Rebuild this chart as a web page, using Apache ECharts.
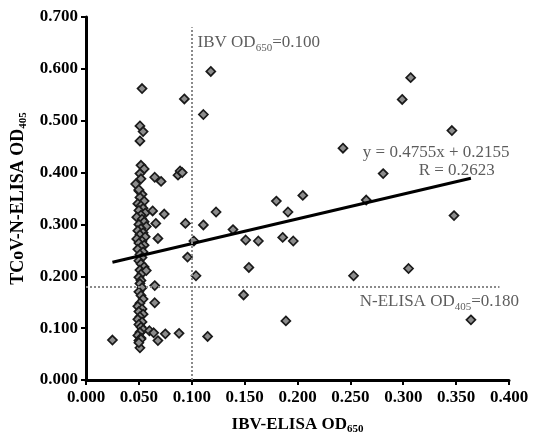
<!DOCTYPE html>
<html><head><meta charset="utf-8">
<script src="https://cdn.jsdelivr.net/npm/echarts@6/dist/echarts.min.js"></script>
<style>html,body{margin:0;padding:0;background:#fff}#c{width:535px;height:440px}</style>
</head><body><div id="c"></div>
<script>
// Scatter points: [IBV-ELISA OD650, TCoV-N-ELISA OD405]
const outerPoints = [
 [0.053,0.562],[0.118,0.595],[0.093,0.542],[0.111,0.512],[0.051,0.490],[0.054,0.479],
 [0.051,0.461],[0.052,0.414],[0.055,0.407],[0.051,0.398],[0.052,0.388],[0.047,0.378],
 [0.065,0.391],[0.071,0.383],[0.087,0.395],[0.089,0.403],[0.091,0.400],[0.050,0.367],
 [0.063,0.326],[0.074,0.320],[0.123,0.324],[0.307,0.583],[0.299,0.541],[0.346,0.481],
 [0.243,0.447],[0.281,0.398],[0.205,0.356],[0.180,0.345],[0.191,0.324],[0.265,0.347],
 [0.348,0.317],[0.094,0.302],[0.111,0.299],[0.139,0.290],[0.151,0.270],[0.163,0.268],
 [0.186,0.275],[0.196,0.268],[0.102,0.268],[0.096,0.237],[0.104,0.201],[0.154,0.217],
 [0.149,0.164],[0.253,0.201],[0.305,0.215],[0.189,0.114],[0.364,0.116],[0.115,0.084],
 [0.088,0.090],[0.025,0.077],[0.066,0.302],[0.068,0.273],[0.057,0.211],[0.065,0.182],
 [0.065,0.149],[0.060,0.095],[0.064,0.091],[0.075,0.089],[0.068,0.076],[0.050,0.076],
 [0.052,0.079],[0.051,0.062],[0.050,0.072]
];
const columnPoints = [
 [0.050,0.365],[0.053,0.358],[0.051,0.352],[0.055,0.345],[0.049,0.340],[0.052,0.336],
 [0.054,0.331],[0.050,0.327],[0.056,0.322],[0.052,0.318],[0.048,0.314],[0.053,0.310],
 [0.055,0.305],[0.050,0.300],[0.057,0.296],[0.052,0.292],[0.049,0.288],[0.054,0.284],
 [0.051,0.280],[0.056,0.276],[0.048,0.272],[0.053,0.268],[0.050,0.264],[0.055,0.260],
 [0.052,0.256],[0.049,0.252],[0.054,0.247],[0.051,0.242],[0.053,0.236],[0.050,0.230],
 [0.052,0.224],[0.055,0.218],[0.051,0.212],[0.053,0.206],[0.050,0.198],[0.052,0.192],
 [0.051,0.186],[0.053,0.178],[0.050,0.170],[0.052,0.163],[0.054,0.156],[0.051,0.148],
 [0.049,0.142],[0.053,0.137],[0.050,0.132],[0.054,0.127],[0.051,0.122],[0.049,0.117],
 [0.053,0.112],[0.050,0.107],[0.052,0.102],[0.054,0.097],[0.051,0.092],[0.049,0.086],
 [0.052,0.081]
];
// Regression line endpoints (y = 0.4755x + 0.2155)
const trendX = [0.025, 0.364];
const trendY = [0.227, 0.389];
// Cut-off reference values
const cutoffIBV = 0.100;
const cutoffN = 0.180;
const xTicks = ['0.000','0.050','0.100','0.150','0.200','0.250','0.300','0.350','0.400'];
const yTicks = ['0.000','0.100','0.200','0.300','0.400','0.500','0.600','0.700'];

const FONT = 'Liberation Serif';
const chart = echarts.init(document.getElementById('c'));
const tickFont = {color:'#000', fontFamily:FONT, fontWeight:'bold', fontSize:17};
const noteRich = {
  a:{fontFamily:FONT, fontSize:17, color:'#333', lineHeight:20, verticalAlign:'top'},
  s:{fontFamily:FONT, fontSize:11, color:'#333', lineHeight:11, verticalAlign:'bottom'}
};
function note(x, y, text, pos){
  return {value:[x,y], label:{show:true, position:pos, distance:0, formatter:text, rich:noteRich}};
}
function titleRich(size){
  return {
    a:{fontFamily:FONT, fontWeight:'bold', fontSize:size, color:'#000', lineHeight:size+2, verticalAlign:'top'},
    s:{fontFamily:FONT, fontWeight:'bold', fontSize:Math.round(size*0.62), color:'#000', lineHeight:Math.round(size*0.62), verticalAlign:'bottom'}
  };
}
chart.setOption({
  animation:false,
  backgroundColor:'#fff',
  grid:{left:86, right:26, top:17, bottom:57},
  xAxis:{
    type:'value', min:0, max:0.4, interval:0.05,
    name:'{a|IBV-ELISA OD}{s|650}', nameLocation:'middle', nameGap:36,
    nameTextStyle:{rich:titleRich(17)},
    axisLine:{lineStyle:{color:'#000', width:3}},
    axisTick:{length:5, lineStyle:{color:'#000', width:2}},
    axisLabel:Object.assign({margin:9, formatter:(v)=>xTicks[Math.round(v/0.05)]}, tickFont),
    splitLine:{show:false}
  },
  yAxis:{
    type:'value', min:0, max:0.7, interval:0.1,
    name:'{a|TCoV-N-ELISA OD}{s|405}', nameLocation:'middle', nameGap:48, nameRotate:90,
    nameTextStyle:{rich:titleRich(18)},
    axisLine:{show:true, lineStyle:{color:'#000', width:3}},
    axisTick:{show:true, length:5, lineStyle:{color:'#000', width:2}},
    axisLabel:Object.assign({margin:8, formatter:(v)=>yTicks[Math.round(v/0.1)]}, tickFont),
    splitLine:{show:false}
  },
  series:[
    {
      type:'scatter', name:'ref', data:[], silent:true,
      markLine:{
        silent:true, symbol:'none', label:{show:false},
        lineStyle:{type:[2,2], color:'#8a8a8a', width:2},
        data:[
          [{coord:[cutoffIBV,0]},{coord:[cutoffIBV,0.68]}],
          [{coord:[0,cutoffN]},{coord:[0.391,cutoffN]}]
        ]
      }
    },
    {
      type:'scatter', symbol:'diamond', symbolSize:9,
      itemStyle:{color:'#8c8c8c', borderColor:'#1a1a1a', borderWidth:1.7, opacity:1},
      data:columnPoints.concat(outerPoints), z:3
    },
    {
      type:'line', data:trendX.map((x,i)=>[x,trendY[i]]), symbol:'none',
      lineStyle:{color:'#000', width:3}, z:4
    },
    {
      type:'scatter', symbolSize:0, clip:false, silent:true, z:5,
      data:[
        note(0.1055, 0.648, '{a|IBV OD}{s|650}{a|=0.100}', 'right'),
        note(0.2618, 0.436, '{a|y = 0.4755x + 0.2155}', 'right'),
        note(0.3146, 0.4015, '{a|R = 0.2623}', 'right'),
        note(0.2589, 0.149, '{a|N-ELISA OD}{s|405}{a|=0.180}', 'right')
      ]
    }
  ]
});
</script></body></html>
